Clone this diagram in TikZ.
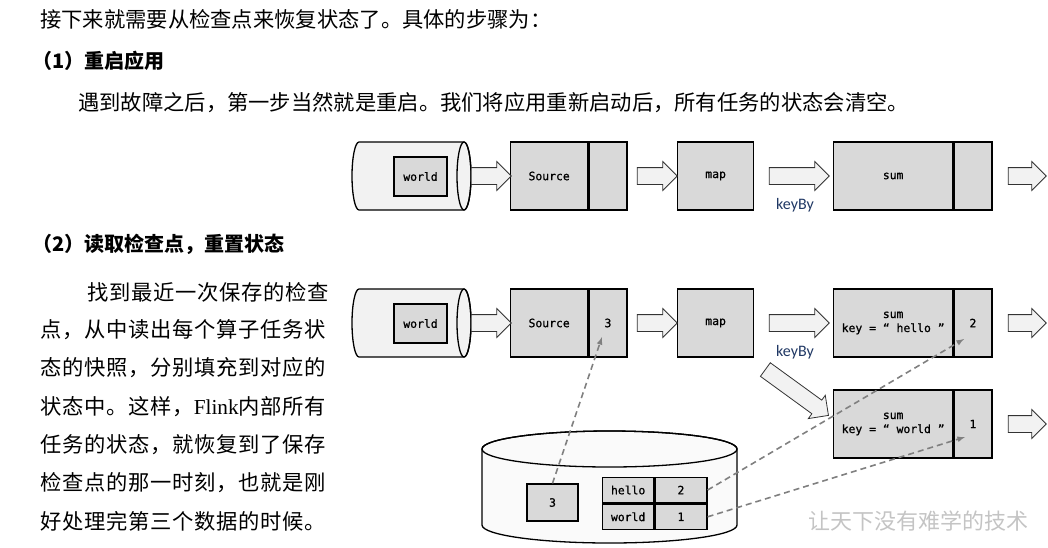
\documentclass[tikz,border=0pt]{standalone}
\usepackage{fontspec}
\setmainfont{Liberation Serif}
\newfontfamily\cjk{Noto Sans CJK SC}
\newfontfamily\cjkwide{Noto Sans CJK SC}[LetterSpace=3.5]
\newfontfamily\latinserif{Liberation Serif}
\newfontfamily\monof{DejaVu Sans Mono}[FakeBold=0.9]
\newfontfamily\labelf{Carlito}
\usetikzlibrary{positioning,shapes.arrows}
\definecolor{boxgray}{HTML}{D9D9D9}
\definecolor{pale}{HTML}{F2F2F2}
\definecolor{drumwhite}{HTML}{FAFAFA}
\definecolor{keyblue}{HTML}{203864}
\definecolor{dashgray}{HTML}{808080}
\definecolor{markgray}{HTML}{C4C4C4}
\tikzset{opbox/.style={draw,fill=boxgray,line width=1.3pt,minimum height=68pt,inner sep=0pt,align=center,font=\monof\fontsize{11.4}{14}\selectfont},
  cell/.style={draw,fill=boxgray,line width=1.3pt,minimum height=25.5pt,inner sep=0pt,font=\monof\fontsize{11.4}{14}\selectfont},
  flow/.style={single arrow,draw=black!80,fill=pale,line width=0.8pt,inner sep=0pt,text height=8pt,text depth=8pt,text width=0pt,single arrow head extend=6pt,single arrow tip angle=90},
  drum/.style={draw,fill=pale,line width=1.3pt},
  restore/.style={draw=dashgray,line width=1.6pt,dash pattern=on 6pt off 4pt,-latex},
  body/.style={anchor=west,inner sep=0pt,font=\cjk\fontsize{21.3}{26}\selectfont},
  para/.style={anchor=west,inner sep=0pt,font=\cjkwide\fontsize{21.3}{26}\selectfont},
  head/.style={anchor=west,inner sep=0pt,font=\cjk\bfseries\fontsize{20}{24}\selectfont},
  keylabel/.style={inner sep=0pt,text=keyblue,font=\labelf\fontsize{16}{18}\selectfont}
}

\begin{document}
\begin{tikzpicture}[x=1pt,y=1pt]
  \useasboundingbox (0,0) rectangle (1048,-547);

  % Text
  \node[body] (intro) at (40,-19) {接下来就需要从检查点来恢复状态了。具体的步骤为：};
  \node[head] (step1) at (32,-61) {（1）重启应用};
  \node[body] (restart) at (78,-103) {遇到故障之后，第一步当然就是重启。我们将应用重新启动后，所有任务的状态会清空。};
  \node[head] (step2) at (32,-244) {（2）读取检查点，重置状态};
  \node[para] (l1) at (87,-292) {找到最近一次保存的检查};
  \node[para] (l2) at (40,-330) {点，从中读出每个算子任务状};
  \node[para] (l3) at (40,-368) {态的快照，分别填充到对应的};
  \node[para] (l4) at (40,-407) {状态中。这样，{\latinserif Flink}内部所有};
  \node[para] (l5) at (40,-445) {任务的状态，就恢复到了保存};
  \node[para] (l6) at (40,-483) {检查点的那一时刻，也就是刚};
  \node[para] (l7) at (40,-521) {好处理完第三个数据的时候。};
  \node[body,text=markgray,font=\cjk\fontsize{22}{26}\selectfont] (mark) at (808,-521) {让天下没有难学的技术};

  % Restart: empty states
  \path[drum] (359,-142) -- (464,-142) arc[start angle=90,end angle=-90,x radius=7,y radius=34] -- (359,-210) arc[start angle=270,end angle=90,x radius=7,y radius=34] -- cycle;
  \draw[line width=1.3pt] (464,-176) ellipse[x radius=7,y radius=34];
  \node[opbox,minimum width=53pt,minimum height=39pt] (w1) at (420.5,-176.5) {world};
  \node[opbox,minimum width=77pt,anchor=west] (src1) at (510,-176) {Source};
  \node[opbox,minimum width=38pt,right=0pt of src1] (src1st) {};
  \node[opbox,minimum width=76pt,anchor=west] (map1) at (677,-176) {map};
  \node[opbox,minimum width=119pt,anchor=west] (sum1) at (833,-176) {sum};
  \node[opbox,minimum width=38pt,right=0pt of sum1] (sum1st) {};
  \node[flow,minimum height=40pt] (f11) at (487,-176) {};
  \node[flow,minimum height=40pt] (f12) at (653,-176) {};
  \node[flow,minimum height=60pt] (f13) at (795,-176) {};
  \node[flow,minimum height=38pt] (f14) at (1023,-176) {};
  \node[keylabel] (kb1) at (795,-205) {keyBy};

  % Restore: states from checkpoint
  \path[drum] (359,-289) -- (464,-289) arc[start angle=90,end angle=-90,x radius=7,y radius=34] -- (359,-357) arc[start angle=270,end angle=90,x radius=7,y radius=34] -- cycle;
  \draw[line width=1.3pt] (464,-323) ellipse[x radius=7,y radius=34];
  \node[opbox,minimum width=53pt,minimum height=39pt] (w2) at (420.5,-323.5) {world};
  \node[opbox,minimum width=77pt,anchor=west] (src2) at (510,-323) {Source};
  \node[opbox,minimum width=38pt,right=0pt of src2] (src2st) {3};
  \node[opbox,minimum width=76pt,anchor=west] (map2) at (677,-323) {map};
  \node[opbox,minimum width=119pt,anchor=west] (hello) at (833,-323) {sum\\key = “ hello ”};
  \node[opbox,minimum width=38pt,right=0pt of hello] (hellost) {2};
  \node[opbox,minimum width=119pt,anchor=west] (world) at (833,-424) {sum\\key = “ world ”};
  \node[opbox,minimum width=38pt,right=0pt of world] (worldst) {1};
  \node[flow,minimum height=40pt] (f21) at (487,-323) {};
  \node[flow,minimum height=40pt] (f22) at (653,-323) {};
  \node[flow,minimum height=60pt] (f23) at (795,-323) {};
  \node[flow,minimum height=38pt] (f24) at (1023,-323) {};
  \node[flow,minimum height=78pt,rotate=-36] (f25) at (793.5,-390) {};
  \node[flow,minimum height=38pt] (f26) at (1023,-424) {};
  \node[keylabel] (kb2) at (795,-352) {keyBy};

  % Checkpoint storage
  \path[drum,fill=drumwhite] (482,-449) -- (482,-525) arc[start angle=180,end angle=360,x radius=127.5,y radius=18] -- (737,-449) arc[start angle=0,end angle=180,x radius=127.5,y radius=18] -- cycle;
  \draw[line width=1.3pt] (609.5,-449) ellipse[x radius=127.5,y radius=18];
  \node[opbox,minimum width=51pt,minimum height=37pt] (ck3) at (552.5,-502.5) {3};
  \node[cell,minimum width=51pt,anchor=west] (kh) at (602,-490) {hello};
  \node[cell,minimum width=52pt,right=0pt of kh] (vh) {2};
  \node[cell,minimum width=51pt,below=0pt of kh] (kw) {world};
  \node[cell,minimum width=52pt,right=0pt of kw] (vw) {1};

  % Restore paths
  \coordinate (t1) at (602,-337);
  \coordinate (t2) at (964,-339);
  \coordinate (t3) at (965,-437);
  \draw[restore] (ck3.north) -- (t1);
  \draw[restore] (vh.east) -- (t2);
  \draw[restore] (vw.east) -- (t3);

\end{tikzpicture}
\end{document}
